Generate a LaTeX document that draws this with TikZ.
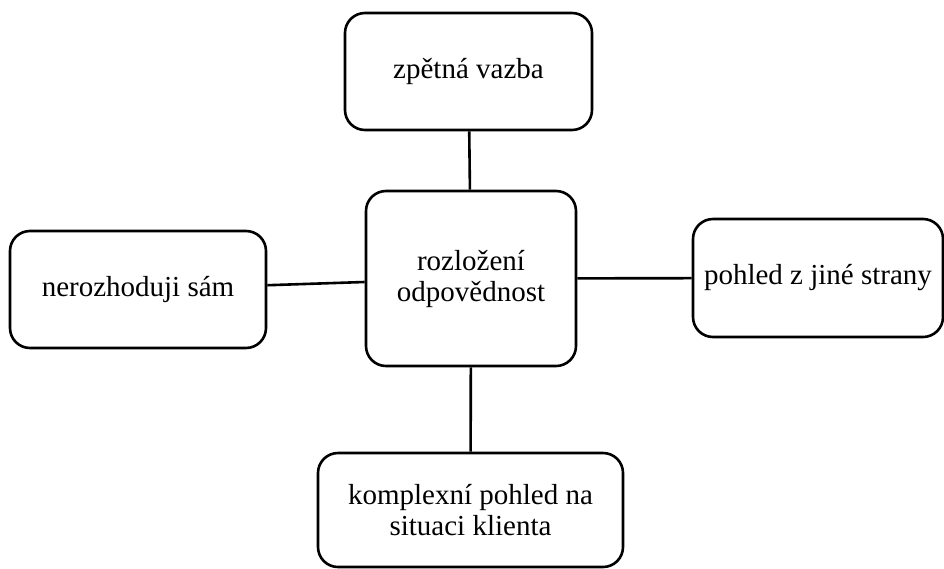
\documentclass[tikz,border=0pt]{standalone}
\usepackage{fontspec}
\setmainfont{Liberation Serif}
\begin{document}
\begin{tikzpicture}[x=1pt,y=-1pt,
  box/.style={draw=black, line width=2.6pt, rounded corners=20pt, fill=white, align=center, inner sep=0pt, font=\fontsize{29}{31}\selectfont},
  link/.style={draw=black, line width=2.6pt}]
\useasboundingbox (0,0) rectangle (944,568);
\node[box, minimum width=247pt, minimum height=117pt] (top) at (468.5,71.5) {zpětná vazba};
\node[box, minimum width=210pt, minimum height=175pt] (center) at (471,278.5) {rozložení\\odpovědnost};
\node[box, minimum width=256pt, minimum height=117pt] (left) at (138,289.5) {nerozhoduji sám};
\node[box, minimum width=250pt, minimum height=118pt] (right) at (818,278) {pohled z jiné strany};
\node[box, minimum width=305pt, minimum height=114pt] (bottom) at (470.5,510) {komplexní pohled na\\situaci klienta};
\draw[link] (top) -- (center);
\draw[link] (left) -- (center);
\draw[link] (center) -- (right);
\draw[link] (center) -- (bottom);
\end{tikzpicture}
\end{document}
